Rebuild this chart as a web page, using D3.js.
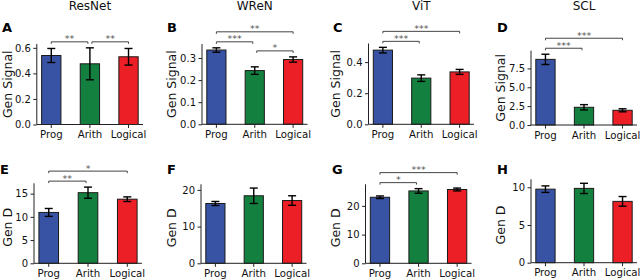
<!DOCTYPE html>
<html><head><meta charset="utf-8">
<script src="https://cdn.jsdelivr.net/npm/d3@7"></script>
<style>
html,body{margin:0;padding:0;background:#fff;}
svg{display:block;font-family:"DejaVu Sans",sans-serif;}
</style></head>
<body>
<svg id="chart" width="640" height="280"></svg>
<script>
// ---------- data ----------
const categories = ["Prog", "Arith", "Logical"];
const models = ["ResNet", "WReN", "ViT", "SCL"];
const panelLetters = ["A", "B", "C", "D", "E", "F", "G", "H"];
const rowLabels = ["Gen Signal", "Gen D"];

const signalMeans = [[0.54, 0.475, 0.53], [0.336, 0.243, 0.293], [0.477, 0.297, 0.337], [8.7, 2.35, 1.95]];
const signalErrs  = [[0.055, 0.125, 0.065], [0.010, 0.017, 0.012], [0.018, 0.021, 0.016], [0.68, 0.35, 0.20]];
const genDMeans   = [[10.95, 15.2, 13.8], [16.3, 18.4, 17.1], [23.0, 25.2, 25.7], [9.75, 9.85, 8.13]];
const genDErrs    = [[0.85, 1.2, 0.5], [0.55, 2.1, 1.3], [0.45, 0.8, 0.5], [0.43, 0.68, 0.64]];

const signalTicks = [[0, 0.2, 0.4, 0.6], [0, 0.1, 0.2, 0.3], [0, 0.2, 0.4], [0, 2.5, 5.0, 7.5]];
const genDTicks   = [[0, 5, 10, 15], [0, 10, 20], [0, 10, 20], [0, 5, 10]];
const signalTickFmt = [".1f", ".1f", ".1f", ".1f"];
const genDTickFmt   = ["d", "d", "d", "d"];

// significance comparisons: [i, j, label]
const signalSig = [
  [[0, 1, "**"], [1, 2, "**"]],
  [[0, 1, "***"], [1, 2, "*"], [0, 2, "**"]],
  [[0, 1, "***"], [0, 2, "***"]],
  [[0, 1, "***"], [0, 2, "***"]]
];
const genDSig = [
  [[0, 1, "**"], [0, 2, "*"]],
  [],
  [[0, 1, "*"], [0, 2, "***"]],
  []
];

const colors = ["#3953a4", "#14803f", "#ed1f26"];

// ---------- layout (pixels) ----------
// [axisLeft, axisRight, yZero, yTop]
const layout = [
  [[36.8, 143, 124.5, 44], [202, 307.5, 124.3, 44], [368.5, 474, 124.3, 43.5], [531, 637, 125, 50.7]],
  [[34, 142, 263.3, 183.3], [201, 306.5, 263.3, 184.3], [365.5, 471.6, 263.3, 184.3], [531, 637, 262.7, 179.3]]
];
const letterX = [[2, 167, 333, 497], [0, 167, 332, 497]];
const letterY = [32, 173.5];
const ylabX = [[11.5, 176, 340, 505], [11.5, 176, 340, 505]];
const ylabShift = [0, 4];

const svg = d3.select("#chart");
const axisColor = "#222";
const textColor = "#111";

function drawPanel(row, col) {
  const means = row === 0 ? signalMeans[col] : genDMeans[col];
  const errs  = row === 0 ? signalErrs[col]  : genDErrs[col];
  const ticks = row === 0 ? signalTicks[col] : genDTicks[col];
  const fmt   = d3.format(row === 0 ? signalTickFmt[col] : genDTickFmt[col]);
  const sigs  = row === 0 ? signalSig[col] : genDSig[col];
  const [L, R, Y0, YT] = layout[row][col];

  const x = d3.scaleBand().domain(categories).range([L, R])
    .paddingInner(0.5).paddingOuter(0.125);
  const tops = means.map((m, i) => m + errs[i]);
  const yMax = d3.max(tops) * 1.05;
  const y = d3.scaleLinear().domain([0, yMax]).range([Y0, YT]);

  const g = svg.append("g");

  // bars
  g.selectAll("rect.bar").data(categories).join("rect")
    .attr("x", d => x(d)).attr("width", x.bandwidth())
    .attr("y", (d, i) => y(means[i])).attr("height", (d, i) => y(0) - y(means[i]))
    .attr("fill", (d, i) => colors[i]).attr("stroke", "#1a1a1a").attr("stroke-width", 1);

  // error bars
  const cap = 4;
  categories.forEach((c, i) => {
    const cx = x(c) + x.bandwidth() / 2;
    const lo = y(means[i] - errs[i]), hi = y(means[i] + errs[i]);
    g.append("line").attr("x1", cx).attr("x2", cx).attr("y1", lo).attr("y2", hi)
      .attr("stroke", "#000").attr("stroke-width", 1.4);
    [lo, hi].forEach(v => g.append("line").attr("x1", cx - cap).attr("x2", cx + cap)
      .attr("y1", v).attr("y2", v).attr("stroke", "#000").attr("stroke-width", 1.4));
  });

  // axes
  const ax = d3.axisLeft(y).tickValues(ticks).tickFormat(fmt).tickSize(3.5).tickPadding(2.5);
  const ga = g.append("g").attr("transform", `translate(${L},0)`).call(ax);
  ga.select(".domain").attr("d", `M0,${Y0}V${YT}`).attr("stroke", axisColor);
  ga.selectAll(".tick line").attr("stroke", axisColor);
  ga.selectAll(".tick text").attr("font-size", 10).attr("fill", textColor)
    .attr("font-family", "DejaVu Sans");

  const bx = d3.axisBottom(x).tickSize(3.5).tickPadding(3);
  const gb = g.append("g").attr("transform", `translate(0,${Y0})`).call(bx);
  gb.select(".domain").attr("d", `M${L},0H${R}`).attr("stroke", axisColor);
  gb.selectAll(".tick line").attr("stroke", axisColor);
  gb.selectAll(".tick text").attr("font-size", 10.2).attr("fill", textColor)
    .attr("font-family", "DejaVu Sans");

  // significance brackets
  const placed = [];
  const cxOf = i => x(categories[i]) + x.bandwidth() / 2;
  const sorted = sigs.slice().sort((a, b) => (a[1] - a[0]) - (b[1] - b[0]));
  sorted.forEach(([i, j, lab]) => {
    let by = y(d3.max(tops.slice(i, j + 1))) - 6;
    placed.forEach(p => { if (i < p.j && p.i < j) by = Math.min(by, p.y - 10); });
    placed.push({ i, j, y: by });
    const x1 = cxOf(i) + (i > 0 ? 2 : 0), x2 = cxOf(j) - (j < 2 ? 2 : 0);
    g.append("path").attr("d", `M${x1},${by + 2}V${by}H${x2}V${by + 2}`)
      .attr("fill", "none").attr("stroke", "#444").attr("stroke-width", 1);
    g.append("text").attr("x", (x1 + x2) / 2).attr("y", by + 0.5)
      .attr("text-anchor", "middle").attr("font-size", 9.5).attr("fill", "#555").text(lab);
  });

  // panel letter
  svg.append("text").attr("x", letterX[row][col]).attr("y", letterY[row])
    .attr("font-size", 13).attr("font-weight", "bold").attr("fill", "#000")
    .text(panelLetters[row * 4 + col]);

  // y label
  const ym = (Y0 + YT) / 2 + ylabShift[row];
  svg.append("text").attr("transform", `translate(${ylabX[row][col]},${ym}) rotate(-90)`)
    .attr("text-anchor", "middle").attr("font-size", 12.5).attr("fill", textColor)
    .text(rowLabels[row]);

  // title
  if (row === 0) {
    svg.append("text").attr("x", (L + R) / 2).attr("y", 10)
      .attr("text-anchor", "middle").attr("font-size", 12).attr("fill", textColor)
      .text(models[col]);
  }
}

for (let r = 0; r < 2; r++) for (let c = 0; c < 4; c++) drawPanel(r, c);
</script>
</body></html>
